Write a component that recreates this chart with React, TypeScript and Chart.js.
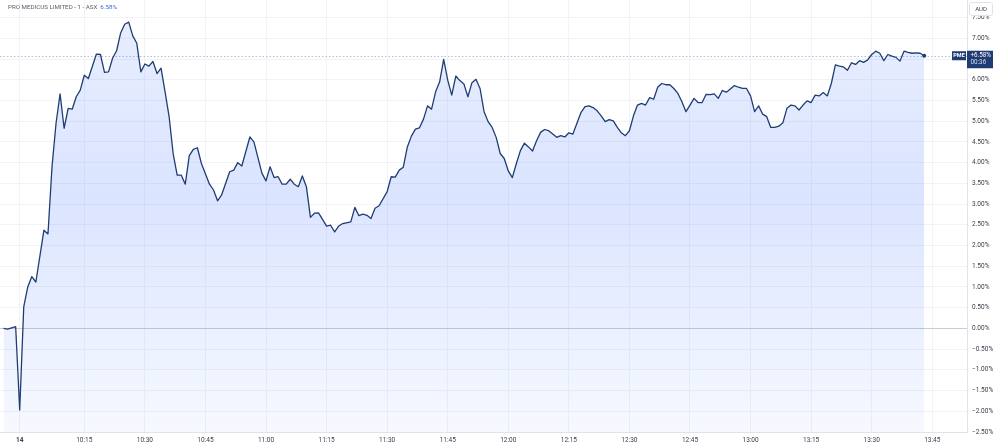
import React, { useEffect, useRef } from "react";
import { Chart, registerables } from "chart.js";

Chart.register(...registerables);

// minutes after 10:00 (session bars)
const minutes = [
  -5, -4, -2, -1, 0, 1, 2, 3, 5, 6,
  7, 8, 9, 10, 11, 12, 13, 14, 15, 16,
  18, 19, 20, 21, 22, 23, 24, 25, 26, 27,
  28, 29, 30, 31, 32, 33, 34, 35, 36, 37,
  38, 39, 40, 41, 42, 43, 44, 46, 47, 48,
  49, 51, 52, 53, 54, 56, 57, 59, 60, 61,
  62, 63, 64, 65, 66, 67, 68, 69, 70, 71,
  72, 73, 74, 75, 76, 77, 78, 79, 81, 82,
  83, 84, 85, 86, 87, 88, 90, 91, 92, 93,
  94, 95, 96, 97, 98, 99, 100, 101, 102, 103,
  104, 105, 106, 107, 108, 109, 110, 111, 112, 113,
  114, 115, 116, 117, 118, 119, 120, 121, 122, 123,
  124, 125, 126, 127, 128, 129, 130, 131, 132, 133,
  134, 135, 136, 137, 138, 139, 140, 141, 142, 143,
  144, 145, 146, 147, 148, 149, 150, 151, 152, 153,
  154, 155, 156, 157, 158, 159, 160, 161, 162, 163,
  164, 165, 166, 167, 168, 169, 170, 171, 172, 173,
  174, 175, 176, 177, 178, 179, 180, 181, 182, 183,
  184, 185, 186, 187, 188, 189, 190, 191, 192, 193,
  194, 195, 196, 197, 198, 199, 200, 201, 202, 203,
  204, 205, 206, 207, 208, 209, 210, 211, 212, 213,
  214, 215, 216, 217, 218, 219, 220, 221, 222, 223,
];

// % change vs previous close
const changePct = [
  0.0, -0.02, 0.04, -1.97, 0.52, 1.0, 1.25, 1.12, 2.37, 2.28,
  3.9, 4.95, 5.66, 4.83, 5.31, 5.29, 5.59, 5.75, 6.11, 6.03,
  6.62, 6.61, 6.18, 6.19, 6.52, 6.7, 7.13, 7.34, 7.39, 7.06,
  6.88, 6.19, 6.38, 6.33, 6.44, 6.15, 6.28, 5.71, 5.11, 4.22,
  3.7, 3.7, 3.48, 4.17, 4.32, 4.36, 3.98, 3.48, 3.34, 3.08,
  3.22, 3.78, 3.82, 4.0, 3.92, 4.62, 4.5, 3.74, 3.56, 3.9,
  3.64, 3.66, 3.48, 3.48, 3.6, 3.48, 3.42, 3.68, 3.42, 2.68,
  2.78, 2.79, 2.63, 2.47, 2.49, 2.33, 2.47, 2.53, 2.57, 2.92,
  2.72, 2.76, 2.73, 2.65, 2.9, 2.96, 3.3, 3.66, 3.65, 3.82,
  3.89, 4.38, 4.64, 4.81, 4.84, 5.05, 5.37, 5.29, 5.71, 5.95,
  6.49, 5.99, 5.63, 6.09, 5.98, 5.9, 5.59, 5.93, 6.01, 5.79,
  5.23, 4.99, 4.85, 4.61, 4.22, 4.1, 3.8, 3.64, 3.98, 4.29,
  4.47, 4.38, 4.28, 4.53, 4.73, 4.8, 4.77, 4.69, 4.61, 4.65,
  4.62, 4.72, 4.69, 4.95, 5.21, 5.35, 5.37, 5.33, 5.25, 5.13,
  4.99, 5.04, 5.01, 4.85, 4.72, 4.65, 4.77, 5.13, 5.39, 5.43,
  5.39, 5.57, 5.53, 5.82, 5.91, 5.88, 5.88, 5.79, 5.67, 5.47,
  5.23, 5.39, 5.55, 5.45, 5.45, 5.65, 5.64, 5.66, 5.55, 5.74,
  5.7, 5.78, 5.86, 5.82, 5.79, 5.79, 5.61, 5.23, 5.37, 5.17,
  5.11, 4.85, 4.85, 4.88, 4.96, 5.31, 5.39, 5.37, 5.27, 5.39,
  5.49, 5.45, 5.63, 5.61, 5.69, 5.61, 5.91, 6.36, 6.33, 6.31,
  6.23, 6.41, 6.37, 6.46, 6.42, 6.48, 6.61, 6.69, 6.64, 6.46,
  6.61, 6.57, 6.54, 6.45, 6.69, 6.66, 6.64, 6.65, 6.64, 6.58,
];

const timeTickMinutes = [-1, 15, 30, 45, 60, 75, 90, 105, 120, 135, 150, 165, 180, 195, 210, 225];
const timeTickLabels = [
  "14", "10:15", "10:30", "10:45", "11:00", "11:15", "11:30", "11:45",
  "12:00", "12:15", "12:30", "12:45", "13:00", "13:15", "13:30", "13:45",
];

const pctTickValues = [-2.5, -2, -1.5, -1, -0.5, 0, 0.5, 1, 1.5, 2, 2.5, 3, 3.5, 4, 4.5, 5, 5.5, 6, 6.5, 7, 7.5];
const pctTickLabels = [
  "−2.50%", "−2.00%", "−1.50%", "−1.00%", "−0.50%", "0.00%", "0.50%", "1.00%", "1.50%", "2.00%",
  "2.50%", "3.00%", "3.50%", "4.00%", "4.50%", "5.00%", "5.50%", "6.00%", "6.50%", "7.00%", "7.50%",
];

const titleText = "PRO MEDICUS LIMITED - 1 - ASX";
const titleChange = "6.58%";
const symbolText = "PME";
const lastChangeText = "+6.58%";
const countdownText = "00:36";
const currencyText = "AUD";

const X_MIN = -5.88;
const X_MAX = 233.6;
const Y_MIN = -2.5;
const Y_MAX = 7.925;

const NAVY = "#1f3d73";
const FONT = "Roboto";

function roundRect(ctx: CanvasRenderingContext2D, x: number, y: number, w: number, h: number, r: number) {
  ctx.beginPath();
  ctx.moveTo(x + r, y);
  ctx.lineTo(x + w - r, y);
  ctx.quadraticCurveTo(x + w, y, x + w, y + r);
  ctx.lineTo(x + w, y + h - r);
  ctx.quadraticCurveTo(x + w, y + h, x + w - r, y + h);
  ctx.lineTo(x + r, y + h);
  ctx.quadraticCurveTo(x, y + h, x, y + h - r);
  ctx.lineTo(x, y + r);
  ctx.quadraticCurveTo(x, y, x + r, y);
  ctx.closePath();
}

const priceLinePlugin = {
  id: "priceLine",
  beforeDatasetsDraw(chart: any) {
    const { ctx, chartArea, scales } = chart;
    const ly = Math.round(scales.y.getPixelForValue(changePct[changePct.length - 1])) + 0.5;
    ctx.save();
    ctx.setLineDash([1.5, 2]);
    ctx.strokeStyle = "#b3bfd8";
    ctx.lineWidth = 1;
    ctx.beginPath();
    ctx.moveTo(chartArea.left, ly);
    ctx.lineTo(chartArea.right, ly);
    ctx.stroke();
    ctx.restore();
  },
  afterDraw(chart: any) {
    const { ctx, chartArea, scales } = chart;
    const last = changePct.length - 1;
    const lx = scales.x.getPixelForValue(minutes[last]);
    const ly = scales.y.getPixelForValue(changePct[last]);
    ctx.save();
    // end dot
    ctx.fillStyle = NAVY;
    ctx.beginPath();
    ctx.arc(lx, ly, 2, 0, Math.PI * 2);
    ctx.fill();

    // symbol tag
    const r = chartArea.right;
    ctx.fillStyle = NAVY;
    ctx.fillRect(r - 15, ly - 4.5, 14, 9);
    ctx.fillStyle = "#ffffff";
    ctx.font = `bold 5.5px ${FONT}`;
    ctx.textAlign = "center";
    ctx.textBaseline = "middle";
    ctx.fillText(symbolText, r - 8, ly + 0.3);

    // value tag
    ctx.fillStyle = NAVY;
    ctx.fillRect(r, ly - 5, 26, 17.5);
    ctx.fillStyle = "#ffffff";
    ctx.font = `6.3px ${FONT}`;
    ctx.textAlign = "left";
    ctx.fillText(lastChangeText, r + 3.5, ly - 0.8);
    ctx.fillStyle = "#d6def0";
    ctx.fillText(countdownText, r + 3.5, ly + 7);

    // currency box
    ctx.fillStyle = "#ffffff";
    roundRect(ctx, r + 2.5, 2.5, 23, 13, 2);
    ctx.fill();
    ctx.strokeStyle = "#e0e3eb";
    ctx.lineWidth = 1;
    ctx.stroke();
    ctx.fillStyle = "#3c404b";
    ctx.font = `6px ${FONT}`;
    ctx.textAlign = "center";
    ctx.fillText(currencyText, r + 14, 9.2);

    // title
    ctx.textAlign = "left";
    ctx.font = `6.2px ${FONT}`;
    ctx.fillStyle = "#5d606b";
    ctx.fillText(titleText, 8, 7.8);
    const w = ctx.measureText(titleText).width;
    ctx.fillStyle = "#3f6ad8";
    ctx.fillText(titleChange, 8 + w + 3, 7.8);
    ctx.restore();
  },
};

export default function App() {
  const canvasRef = useRef<HTMLCanvasElement | null>(null);

  useEffect(() => {
    const canvas = canvasRef.current;
    if (!canvas) return;
    const points = minutes.map((m, i) => ({ x: m, y: changePct[i] }));
    const chart = new Chart(canvas, {
      type: "line",
      data: {
        datasets: [
          {
            data: points,
            borderColor: NAVY,
            borderWidth: 1.3,
            pointRadius: 0,
            tension: 0,
            borderJoinStyle: "round",
            fill: "start",
            backgroundColor: (c: any) => {
              const { chart: ch } = c;
              const area = ch.chartArea;
              if (!area) return "rgba(41,98,255,0.12)";
              const g = ch.ctx.createLinearGradient(0, area.top, 0, area.bottom);
              g.addColorStop(0, "rgba(41,98,255,0.10)");
              g.addColorStop(0.45, "rgba(41,98,255,0.17)");
              g.addColorStop(1, "rgba(41,98,255,0.04)");
              return g;
            },
          },
        ],
      },
      options: {
        responsive: false,
        devicePixelRatio: 1,
        animation: false,
        layout: { padding: 0 },
        plugins: { legend: { display: false }, tooltip: { enabled: false } },
        scales: {
          x: {
            type: "linear",
            min: X_MIN,
            max: X_MAX,
            afterBuildTicks: (s: any) => {
              s.ticks = timeTickMinutes.map((v) => ({ value: v }));
            },
            afterFit: (s: any) => {
              s.height = 16;
              s.paddingLeft = 0;
              s.paddingRight = 0;
            },
            ticks: {
              autoSkip: false,
              maxRotation: 0,
              padding: 4,
              color: "#3c404b",
              font: (c: any) => ({ family: FONT, size: 6.5, weight: c.index === 0 ? "bold" : "normal" }),
              callback: (v: any) => timeTickLabels[timeTickMinutes.indexOf(Number(v))],
            },
            grid: { color: "#f1f3f6", drawTicks: false, lineWidth: 1 },
            border: { color: "#e0e3eb" },
          },
          y: {
            position: "right",
            min: Y_MIN,
            max: Y_MAX,
            afterBuildTicks: (s: any) => {
              s.ticks = pctTickValues.map((v) => ({ value: v }));
            },
            afterFit: (s: any) => {
              s.width = 33;
              s.paddingTop = 0;
              s.paddingBottom = 0;
            },
            ticks: {
              autoSkip: false,
              padding: 5,
              color: "#3c404b",
              font: { family: FONT, size: 6.5 },
              callback: (v: any) => pctTickLabels[pctTickValues.indexOf(Number(v))],
            },
            grid: {
              color: (c: any) => (c.tick && c.tick.value === 0 ? "#c9ccd4" : "#f1f3f6"),
              drawTicks: false,
              lineWidth: 1,
            },
            border: { color: "#e0e3eb" },
          },
        },
      },
      plugins: [priceLinePlugin],
    } as any);
    return () => chart.destroy();
  }, []);

  return (
    <div style={{ position: "absolute", left: 0, top: 0, width: 1000, height: 448, background: "#ffffff" }}>
      <canvas ref={canvasRef} width={1000} height={448} style={{ display: "block" }} />
    </div>
  );
}
